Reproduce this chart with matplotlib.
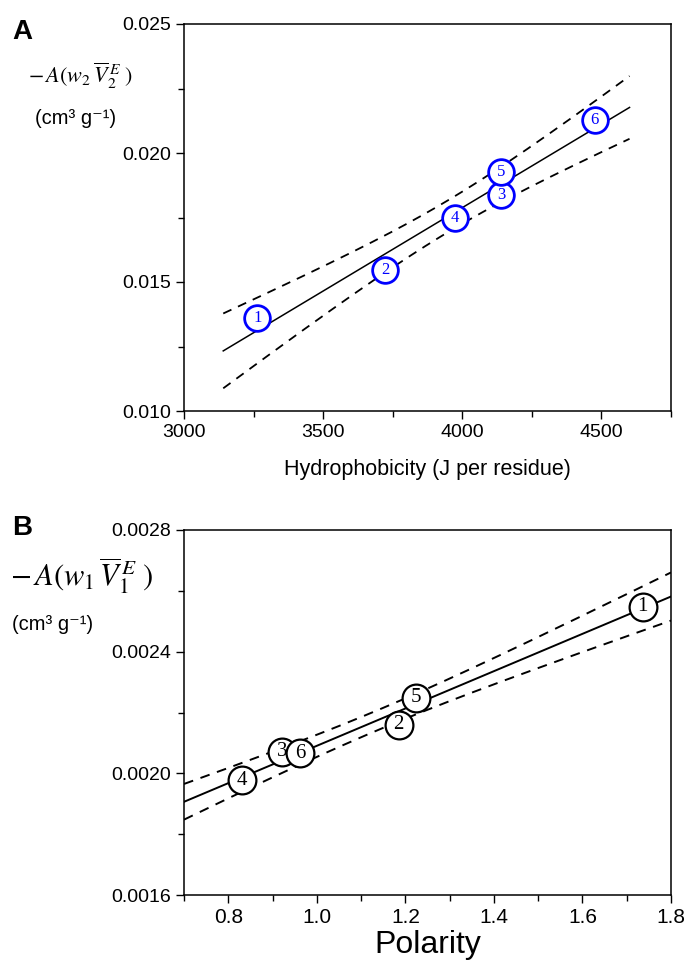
import numpy as np
import matplotlib
matplotlib.use("Agg")
import matplotlib.pyplot as plt
from matplotlib.ticker import MultipleLocator, FormatStrFormatter

plt.rcParams['font.family'] = ['Liberation Sans', 'DejaVu Sans']
plt.rcParams['mathtext.fontset'] = 'stix'

# ---- Panel A data ----
labels_a = ["1", "2", "3", "4", "5", "6"]
hydrophobicity = [3264, 3723, 4140, 3974, 4140, 4476]
v2e = [0.01359, 0.01547, 0.01837, 0.01747, 0.01928, 0.02128]
fit_range_a = [3141, 4601]

# ---- Panel B data ----
labels_b = ["1", "2", "3", "4", "5", "6"]
polarity = [1.736, 1.185, 0.922, 0.831, 1.225, 0.962]
v1e = [0.002548, 0.002159, 0.002071, 0.001978, 0.002249, 0.002066]
fit_range_b = [0.7, 1.8]

T_975_DF4 = 2.776  # Student t, 95 %, n-2 = 4


def fit_band(x, y, xr):
    x = np.asarray(x, float)
    y = np.asarray(y, float)
    n = len(x)
    b, a = np.polyfit(x, y, 1)
    resid = y - (a + b * x)
    s = np.sqrt(np.sum(resid ** 2) / (n - 2))
    sxx = np.sum((x - x.mean()) ** 2)
    xs = np.linspace(xr[0], xr[1], 200)
    yf = a + b * xs
    half = T_975_DF4 * s * np.sqrt(1.0 / n + (xs - x.mean()) ** 2 / sxx)
    return xs, yf, yf - half, yf + half


fig = plt.figure(figsize=(6.87, 9.61), dpi=100)
W, H = 687, 961


def add_axes_px(l, t, r, b):
    return fig.add_axes([l / W, 1 - b / H, (r - l) / W, (b - t) / H])


def style(ax):
    for sp in ax.spines.values():
        sp.set_linewidth(1.1)
    ax.tick_params(which='major', direction='out', length=6, width=1.0,
                   labelsize=14, top=False, right=False)
    ax.tick_params(which='minor', direction='out', length=4, width=1.0,
                   top=False, right=False)


# ---------- Panel A ----------
axA = add_axes_px(184, 24, 671, 411)
xs, yf, lo, hi = fit_band(hydrophobicity, v2e, fit_range_a)
axA.plot(xs, yf, color='black', lw=1.1)
axA.plot(xs, lo, color='black', lw=1.3, ls=(0, (5, 4)))
axA.plot(xs, hi, color='black', lw=1.3, ls=(0, (5, 4)))
axA.plot(hydrophobicity, v2e, 'o', ms=18.5, mfc='white', mec='#0000ff', mew=2.0)
for lab, x, y in zip(labels_a, hydrophobicity, v2e):
    axA.text(x, y, lab, ha='center', va='center', color='#0000ff',
             fontsize=12, family='Liberation Serif')
axA.set_xlim(3000, 4750)
axA.set_ylim(0.010, 0.025)
axA.xaxis.set_major_locator(MultipleLocator(500))
axA.xaxis.set_minor_locator(MultipleLocator(250))
axA.yaxis.set_major_locator(MultipleLocator(0.005))
axA.yaxis.set_minor_locator(MultipleLocator(0.0025))
axA.yaxis.set_major_formatter(FormatStrFormatter('%.3f'))
style(axA)
axA.set_xlabel('Hydrophobicity (J per residue)', fontsize=15.5, labelpad=13)

# ---------- Panel B ----------
axB = add_axes_px(184, 530, 671, 895)
xs, yf, lo, hi = fit_band(polarity, v1e, fit_range_b)
axB.plot(xs, yf, color='black', lw=1.4)
axB.plot(xs, lo, color='black', lw=1.4, ls=(0, (5, 4)))
axB.plot(xs, hi, color='black', lw=1.4, ls=(0, (5, 4)))
axB.plot(polarity, v1e, 'o', ms=20, mfc='white', mec='black', mew=1.6)
for lab, x, y in zip(labels_b, polarity, v1e):
    axB.text(x, y, lab, ha='center', va='center', color='black',
             fontsize=15, family='Liberation Serif')
axB.set_xlim(0.7, 1.8)
axB.set_ylim(0.0016, 0.0028)
axB.xaxis.set_major_locator(MultipleLocator(0.2))
axB.xaxis.set_minor_locator(MultipleLocator(0.1))
axB.yaxis.set_major_locator(MultipleLocator(0.0004))
axB.yaxis.set_minor_locator(MultipleLocator(0.0002))
axB.yaxis.set_major_formatter(FormatStrFormatter('%.4f'))
axB.xaxis.set_major_formatter(FormatStrFormatter('%.1f'))
style(axB)
axB.tick_params(axis='x', labelsize=15)
axB.set_xlabel('Polarity', fontsize=23, labelpad=2)

# ---------- panel letters & y labels ----------
fig.text(12 / W, 1 - 32 / H, 'A', fontsize=20, fontweight='bold', va='center')
fig.text(12 / W, 1 - 528 / H, 'B', fontsize=20, fontweight='bold', va='center')

fig.text(28 / W, 1 - 76 / H, r'$-\,A(w_2\,\overline{V}_2^{\,E}\ )$',
         fontsize=16, va='center', ha='left')
fig.text(35 / W, 1 - 119 / H, '(cm³ g⁻¹)', fontsize=14.5, va='center', ha='left')

fig.text(10 / W, 1 - 576 / H, r'$-\,A(w_1\,\overline{V}_1^{\,E}\ )$',
         fontsize=22, va='center', ha='left')
fig.text(12 / W, 1 - 624 / H, '(cm³ g⁻¹)', fontsize=14.5, va='center', ha='left')

fig.savefig('out.png', dpi=100, facecolor='white')
